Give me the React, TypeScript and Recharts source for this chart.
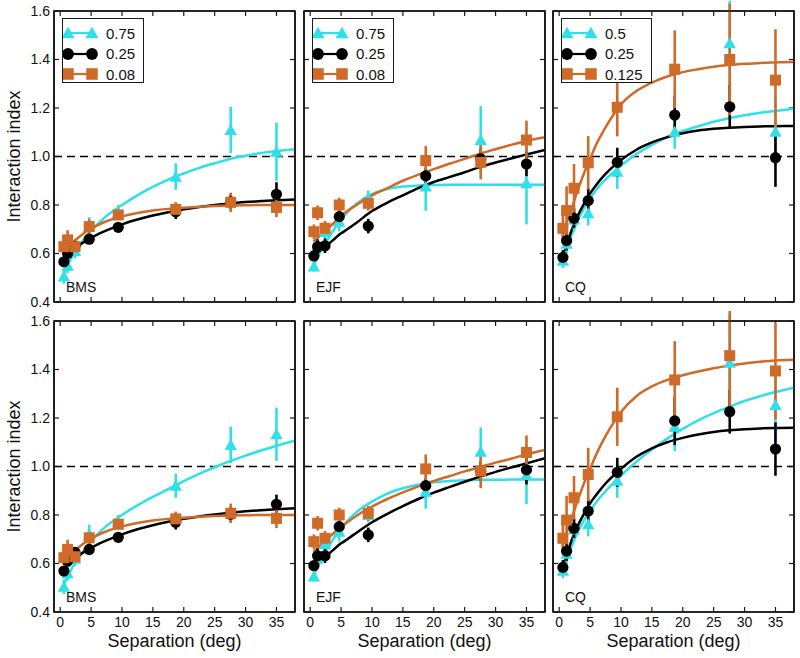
import React from "react";
import { ComposedChart, Line, Scatter, ErrorBar, XAxis, YAxis, ReferenceLine, ReferenceArea } from "recharts";

const CYAN = "#2fe0e8";
const ORANGE = "#cf6a28";
const BLACK = "#000000";
const FRAME = "#1a1a1a";
const FONT = "'Liberation Sans', Arial, Helvetica, sans-serif";

// separations of the measured points (deg)
const separations = [0.6, 1.2, 2.4, 4.7, 9.4, 18.7, 27.6, 35];
const fitX = [0.5, 1, 2, 3, 4, 5, 6, 7.5, 10, 12.5, 15, 17.5, 20, 22.5, 25, 27.5, 30, 32.5, 35, 38];
const xTicks = [0, 5, 10, 15, 20, 25, 30, 35];
const yTicks = [0.4, 0.6, 0.8, 1.0, 1.2, 1.4, 1.6];

// ---- top row ----
const bmsTopCyan = [0.505, 0.55, 0.61, 0.71, 0.77, 0.917, 1.109, 1.02];
const bmsTopCyanErr = [0.03, 0.03, 0.03, 0.04, 0.03, 0.055, 0.095, 0.12];
const bmsTopBlack = [0.566, 0.6, 0.63, 0.659, 0.708, 0.772, 0.813, 0.844];
const bmsTopBlackErr = [0.02, 0.02, 0.02, 0.02, 0.02, 0.03, 0.03, 0.05];
const bmsTopOrange = [0.628, 0.656, 0.628, 0.711, 0.759, 0.782, 0.811, 0.79];
const bmsTopOrangeErr = [0.03, 0.04, 0.03, 0.03, 0.02, 0.03, 0.04, 0.04];
const bmsTopCyanFit = [0.51, 0.54, 0.59, 0.63, 0.665, 0.695, 0.72, 0.755, 0.8, 0.84, 0.875, 0.905, 0.93, 0.953, 0.972, 0.99, 1.003, 1.014, 1.022, 1.03];
const bmsTopBlackFit = [0.56, 0.58, 0.61, 0.632, 0.65, 0.665, 0.678, 0.695, 0.72, 0.74, 0.757, 0.77, 0.782, 0.792, 0.8, 0.806, 0.812, 0.816, 0.82, 0.823];
const bmsTopOrangeFit = [0.605, 0.62, 0.645, 0.667, 0.687, 0.703, 0.716, 0.733, 0.753, 0.767, 0.777, 0.784, 0.789, 0.793, 0.796, 0.798, 0.799, 0.8, 0.8, 0.8];

const ejfTopCyan = [0.546, 0.63, 0.69, 0.731, 0.83, 0.876, 1.068, 0.89];
const ejfTopCyanErr = [0.02, 0.03, 0.03, 0.04, 0.03, 0.1, 0.14, 0.17];
const ejfTopBlack = [0.59, 0.628, 0.632, 0.752, 0.713, 0.92, 0.99, 0.969];
const ejfTopBlackErr = [0.02, 0.03, 0.03, 0.03, 0.03, 0.03, 0.04, 0.05];
const ejfTopOrange = [0.69, 0.768, 0.704, 0.8, 0.807, 0.983, 0.976, 1.068];
const ejfTopOrangeErr = [0.03, 0.03, 0.03, 0.03, 0.03, 0.06, 0.07, 0.08];
const ejfTopCyanFit = [0.55, 0.575, 0.625, 0.665, 0.705, 0.74, 0.77, 0.805, 0.845, 0.866, 0.876, 0.88, 0.882, 0.883, 0.883, 0.883, 0.883, 0.883, 0.883, 0.883];
const ejfTopBlackFit = [0.59, 0.6, 0.62, 0.64, 0.662, 0.683, 0.7, 0.727, 0.775, 0.81, 0.84, 0.87, 0.895, 0.915, 0.935, 0.957, 0.975, 0.992, 1.008, 1.027];
const ejfTopOrangeFit = [0.65, 0.66, 0.683, 0.706, 0.73, 0.755, 0.775, 0.8, 0.84, 0.87, 0.9, 0.925, 0.948, 0.97, 0.99, 1.012, 1.03, 1.048, 1.064, 1.079];

const cqTopCyan = [0.57, 0.64, 0.74, 0.766, 0.937, 1.102, 1.467, 1.102];
const cqTopCyanErr = [0.03, 0.04, 0.05, 0.05, 0.07, 0.07, 0.2, 0.14];
const cqTopBlack = [0.584, 0.653, 0.745, 0.818, 0.976, 1.171, 1.205, 0.995];
const cqTopBlackErr = [0.03, 0.04, 0.04, 0.05, 0.06, 0.08, 0.09, 0.12];
const cqTopOrange = [0.704, 0.777, 0.869, 0.974, 1.203, 1.36, 1.4, 1.315];
const cqTopOrangeErr = [0.06, 0.1, 0.1, 0.11, 0.12, 0.16, 0.23, 0.21];
const cqTopCyanFit = [0.55, 0.595, 0.675, 0.735, 0.785, 0.828, 0.863, 0.905, 0.962, 1.01, 1.048, 1.08, 1.105, 1.125, 1.143, 1.158, 1.17, 1.18, 1.188, 1.197];
const cqTopBlackFit = [0.56, 0.615, 0.695, 0.755, 0.805, 0.848, 0.883, 0.928, 0.985, 1.028, 1.058, 1.08, 1.096, 1.107, 1.114, 1.119, 1.122, 1.124, 1.125, 1.126];
const cqTopOrangeFit = [0.67, 0.71, 0.785, 0.86, 0.93, 0.99, 1.05, 1.12, 1.215, 1.27, 1.305, 1.33, 1.348, 1.36, 1.37, 1.377, 1.382, 1.386, 1.388, 1.39];

// ---- bottom row ----
const bmsBotCyan = [0.504, 0.56, 0.62, 0.72, 0.77, 0.921, 1.089, 1.133];
const bmsBotCyanErr = [0.03, 0.03, 0.03, 0.04, 0.03, 0.05, 0.075, 0.11];
const bmsBotBlack = [0.569, 0.61, 0.646, 0.658, 0.708, 0.77, 0.803, 0.844];
const bmsBotBlackErr = [0.02, 0.02, 0.02, 0.02, 0.02, 0.03, 0.03, 0.04];
const bmsBotOrange = [0.624, 0.658, 0.628, 0.706, 0.762, 0.784, 0.807, 0.786];
const bmsBotOrangeErr = [0.03, 0.04, 0.03, 0.03, 0.02, 0.03, 0.04, 0.04];
const bmsBotCyanFit = [0.505, 0.535, 0.585, 0.625, 0.66, 0.692, 0.72, 0.755, 0.8, 0.84, 0.875, 0.907, 0.94, 0.97, 0.997, 1.022, 1.045, 1.066, 1.085, 1.107];
const bmsBotBlackFit = [0.56, 0.58, 0.61, 0.632, 0.65, 0.665, 0.678, 0.695, 0.72, 0.741, 0.758, 0.772, 0.784, 0.794, 0.802, 0.809, 0.815, 0.82, 0.824, 0.828];
const bmsBotOrangeFit = [0.605, 0.62, 0.645, 0.667, 0.687, 0.703, 0.716, 0.733, 0.753, 0.767, 0.777, 0.784, 0.789, 0.793, 0.796, 0.798, 0.799, 0.8, 0.8, 0.8];

const ejfBotCyan = [0.546, 0.62, 0.68, 0.731, 0.8, 0.896, 1.061, 0.965];
const ejfBotCyanErr = [0.02, 0.03, 0.03, 0.04, 0.03, 0.07, 0.1, 0.12];
const ejfBotBlack = [0.591, 0.632, 0.632, 0.752, 0.718, 0.921, 0.98, 0.986];
const ejfBotBlackErr = [0.02, 0.03, 0.03, 0.03, 0.03, 0.03, 0.04, 0.06];
const ejfBotOrange = [0.69, 0.766, 0.704, 0.8, 0.807, 0.99, 0.981, 1.058];
const ejfBotOrangeErr = [0.03, 0.03, 0.03, 0.03, 0.03, 0.06, 0.07, 0.07];
const ejfBotCyanFit = [0.55, 0.575, 0.625, 0.67, 0.71, 0.745, 0.775, 0.812, 0.855, 0.888, 0.91, 0.925, 0.935, 0.94, 0.943, 0.945, 0.945, 0.946, 0.946, 0.946];
const ejfBotBlackFit = [0.59, 0.6, 0.62, 0.64, 0.662, 0.683, 0.7, 0.727, 0.77, 0.805, 0.837, 0.866, 0.892, 0.915, 0.937, 0.958, 0.978, 0.996, 1.013, 1.034];
const ejfBotOrangeFit = [0.65, 0.66, 0.683, 0.706, 0.73, 0.75, 0.77, 0.797, 0.835, 0.866, 0.893, 0.918, 0.94, 0.96, 0.98, 0.998, 1.016, 1.032, 1.05, 1.068];

const cqBotCyan = [0.57, 0.64, 0.74, 0.762, 0.941, 1.164, 1.428, 1.254];
const cqBotCyanErr = [0.03, 0.04, 0.05, 0.05, 0.07, 0.1, 0.2, 0.15];
const cqBotBlack = [0.584, 0.651, 0.745, 0.816, 0.976, 1.188, 1.226, 1.072];
const cqBotBlackErr = [0.03, 0.04, 0.04, 0.05, 0.06, 0.1, 0.09, 0.11];
const cqBotOrange = [0.704, 0.779, 0.871, 0.967, 1.205, 1.357, 1.457, 1.394];
const cqBotOrangeErr = [0.06, 0.1, 0.09, 0.11, 0.12, 0.16, 0.22, 0.2];
const cqBotCyanFit = [0.55, 0.595, 0.67, 0.73, 0.778, 0.818, 0.853, 0.898, 0.962, 1.02, 1.07, 1.115, 1.155, 1.19, 1.22, 1.246, 1.27, 1.29, 1.307, 1.325];
const cqBotBlackFit = [0.56, 0.615, 0.695, 0.755, 0.805, 0.848, 0.883, 0.93, 0.99, 1.04, 1.075, 1.1, 1.118, 1.132, 1.142, 1.149, 1.154, 1.157, 1.159, 1.16];
const cqBotOrangeFit = [0.67, 0.71, 0.785, 0.86, 0.93, 0.99, 1.05, 1.125, 1.225, 1.29, 1.33, 1.357, 1.376, 1.392, 1.405, 1.416, 1.425, 1.432, 1.437, 1.44];

const legendBmsEjf = ["0.75", "0.25", "0.08"];
const legendCq = ["0.5", "0.25", "0.125"];

// layout of the plot areas
const PLOT_W = 241;
const PLOT_H = 291;
const COL_X = [54, 304, 553];
const ROW_Y = [11, 321];
const PAD_T = 10;
const X_MIN = -1;
const X_MAX = 38;
const Y_MIN = 0.4;
const Y_MAX = 1.6;
// inward tick length (5 px) expressed in data units
const TICK_DX = (5 * (X_MAX - X_MIN)) / PLOT_W;
const TICK_DY = (5 * (Y_MAX - Y_MIN)) / PLOT_H;

type Kind = "tri" | "circ" | "sq";

const points = (ys: number[], es: number[]) => separations.map((x, i) => ({ x, y: ys[i], e: es[i] }));
const curve = (ys: number[]) => fitX.map((x, i) => ({ x, y: ys[i] }));

function Marker({ kind, cx, cy, color, s = 1 }: { kind: Kind; cx: number; cy: number; color: string; s?: number }) {
  if (kind === "circ") return <circle cx={cx} cy={cy} r={5.6 * s} fill={color} />;
  if (kind === "sq") {
    const h = 5.5 * s;
    return <rect x={cx - h} y={cy - h} width={2 * h} height={2 * h} fill={color} />;
  }
  const w = 6.2 * s;
  return <polygon points={`${cx},${cy - 6 * s} ${cx + w},${cy + 5 * s} ${cx - w},${cy + 5 * s}`} fill={color} />;
}

const shapeOf = (kind: Kind, color: string) => (p: any) => <Marker kind={kind} cx={p.cx} cy={p.cy} color={color} />;

interface SeriesDef {
  kind: Kind;
  color: string;
  pts: { x: number; y: number; e: number }[];
  fit: { x: number; y: number }[];
}

function Panel({ col, row, series }: { col: number; row: number; series: SeriesDef[] }) {
  const left = col === 0;
  const bottom = row === 1;
  // axes need a non-zero size to be drawn at all
  const yW = left ? 54 : 1;
  const xH = bottom ? 47 : 1;
  const width = yW + PLOT_W + 1 + 3;
  const mBottom = bottom ? 0 : 8;
  const height = PAD_T + PLOT_H + xH + mBottom;
  const axisLine = { stroke: FRAME, strokeWidth: 1.6 };
  const tickStyle = { fontSize: 14, fill: "#111", fontFamily: FONT };
  const tickProps = { stroke: FRAME, strokeWidth: 1.2, ifOverflow: "visible" as const };

  return (
    <div style={{ position: "absolute", left: COL_X[col] - yW, top: ROW_Y[row] - PAD_T }}>
      <ComposedChart width={width} height={height} margin={{ top: PAD_T - 1, right: 3, bottom: mBottom, left: 0 }}>
        <XAxis
          type="number"
          dataKey="x"
          domain={[X_MIN, X_MAX]}
          ticks={xTicks}
          allowDataOverflow
          height={xH}
          axisLine={axisLine}
          tickLine={false}
          tickSize={-5}
          tickMargin={10}
          tick={bottom ? tickStyle : false}
          interval={0}
          label={
            bottom
              ? { value: "Separation (deg)", position: "insideBottom", offset: 12, style: { fontSize: 18, fill: "#111", fontFamily: FONT } }
              : undefined
          }
        />
        <XAxis
          xAxisId="t"
          orientation="top"
          type="number"
          domain={[X_MIN, X_MAX]}
          ticks={xTicks}
          allowDataOverflow
          height={1}
          axisLine={axisLine}
          tickLine={false}
          tick={false}
        />
        <YAxis
          type="number"
          dataKey="y"
          domain={[Y_MIN, Y_MAX]}
          ticks={yTicks}
          allowDataOverflow
          width={yW}
          axisLine={axisLine}
          tickLine={false}
          tickSize={-5}
          tickMargin={9}
          tick={left ? tickStyle : false}
          tickFormatter={(v: number) => v.toFixed(1)}
          interval={0}
          label={
            left
              ? { value: "Interaction index", angle: -90, position: "insideLeft", offset: 14, style: { fontSize: 18, fill: "#111", fontFamily: FONT, textAnchor: "middle" } }
              : undefined
          }
        />
        <YAxis
          yAxisId="r"
          orientation="right"
          type="number"
          domain={[Y_MIN, Y_MAX]}
          ticks={yTicks}
          allowDataOverflow
          width={1}
          axisLine={axisLine}
          tickLine={false}
          tick={false}
        />
        <ReferenceArea x1={X_MIN} x2={X_MAX} y1={Y_MIN} y2={Y_MAX} fill="none" stroke={FRAME} strokeWidth={1.7} ifOverflow="visible" />
        {xTicks.map((t) => (
          <ReferenceLine key={`xb-${t}`} segment={[{ x: t, y: Y_MIN }, { x: t, y: Y_MIN + TICK_DY }]} {...tickProps} />
        ))}
        {xTicks.map((t) => (
          <ReferenceLine key={`xt-${t}`} segment={[{ x: t, y: Y_MAX }, { x: t, y: Y_MAX - TICK_DY }]} {...tickProps} />
        ))}
        {yTicks.map((t) => (
          <ReferenceLine key={`yl-${t}`} segment={[{ x: X_MIN, y: t }, { x: X_MIN + TICK_DX, y: t }]} {...tickProps} />
        ))}
        {yTicks.map((t) => (
          <ReferenceLine key={`yr-${t}`} segment={[{ x: X_MAX, y: t }, { x: X_MAX - TICK_DX, y: t }]} {...tickProps} />
        ))}
        <ReferenceLine y={1} stroke={BLACK} strokeWidth={1.5} strokeDasharray="8 5" />
        {series.map((s, i) => (
          <Line
            key={`fit-${i}`}
            data={s.fit}
            dataKey="y"
            type="monotone"
            stroke={s.color}
            strokeWidth={2.5}
            dot={false}
            activeDot={false}
            isAnimationActive={false}
          />
        ))}
        {series.map((s, i) => (
          <Scatter key={`pts-${i}`} data={s.pts} dataKey="y" shape={shapeOf(s.kind, s.color)} isAnimationActive={false}>
            <ErrorBar dataKey="e" direction="y" width={0} stroke={s.color} strokeWidth={2.6} />
          </Scatter>
        ))}
      </ComposedChart>
    </div>
  );
}

function LegendBox({ col, labels }: { col: number; labels: string[] }) {
  const kinds: Kind[] = ["tri", "circ", "sq"];
  const colors = [CYAN, BLACK, ORANGE];
  return (
    <div
      style={{
        position: "absolute",
        left: COL_X[col] + 8,
        top: ROW_Y[0] + 7,
        width: labels[2].length > 4 ? 91 : 82,
        height: 65,
        border: `1.6px solid ${FRAME}`,
        background: "#fff",
        paddingTop: 4,
        boxSizing: "border-box",
        fontFamily: FONT,
        fontSize: 15,
        color: "#111",
      }}
    >
      {labels.map((t, i) => (
        <div key={t + i} style={{ height: 20.5, display: "flex", alignItems: "center" }}>
          <svg width={43} height={16} style={{ display: "block" }}>
            <line x1={5} y1={8} x2={29} y2={8} stroke={colors[i]} strokeWidth={2.2} />
            <Marker kind={kinds[i]} cx={5} cy={8} color={colors[i]} s={1.05} />
            <Marker kind={kinds[i]} cx={29} cy={8} color={colors[i]} s={1.05} />
          </svg>
          <span style={{ lineHeight: 1 }}>{t}</span>
        </div>
      ))}
    </div>
  );
}

function PanelName({ col, row, name }: { col: number; row: number; name: string }) {
  return (
    <div
      style={{
        position: "absolute",
        left: COL_X[col] + 12,
        top: ROW_Y[row] + 269,
        fontFamily: FONT,
        fontSize: 14,
        lineHeight: 1,
        color: "#111",
      }}
    >
      {name}
    </div>
  );
}

const mk = (c: number[], ce: number[], cf: number[], b: number[], be: number[], bf: number[], o: number[], oe: number[], of: number[]): SeriesDef[] => [
  { kind: "tri", color: CYAN, pts: points(c, ce), fit: curve(cf) },
  { kind: "circ", color: BLACK, pts: points(b, be), fit: curve(bf) },
  { kind: "sq", color: ORANGE, pts: points(o, oe), fit: curve(of) },
];

const panels = [
  { col: 0, row: 0, name: "BMS", s: mk(bmsTopCyan, bmsTopCyanErr, bmsTopCyanFit, bmsTopBlack, bmsTopBlackErr, bmsTopBlackFit, bmsTopOrange, bmsTopOrangeErr, bmsTopOrangeFit) },
  { col: 1, row: 0, name: "EJF", s: mk(ejfTopCyan, ejfTopCyanErr, ejfTopCyanFit, ejfTopBlack, ejfTopBlackErr, ejfTopBlackFit, ejfTopOrange, ejfTopOrangeErr, ejfTopOrangeFit) },
  { col: 2, row: 0, name: "CQ", s: mk(cqTopCyan, cqTopCyanErr, cqTopCyanFit, cqTopBlack, cqTopBlackErr, cqTopBlackFit, cqTopOrange, cqTopOrangeErr, cqTopOrangeFit) },
  { col: 0, row: 1, name: "BMS", s: mk(bmsBotCyan, bmsBotCyanErr, bmsBotCyanFit, bmsBotBlack, bmsBotBlackErr, bmsBotBlackFit, bmsBotOrange, bmsBotOrangeErr, bmsBotOrangeFit) },
  { col: 1, row: 1, name: "EJF", s: mk(ejfBotCyan, ejfBotCyanErr, ejfBotCyanFit, ejfBotBlack, ejfBotBlackErr, ejfBotBlackFit, ejfBotOrange, ejfBotOrangeErr, ejfBotOrangeFit) },
  { col: 2, row: 1, name: "CQ", s: mk(cqBotCyan, cqBotCyanErr, cqBotCyanFit, cqBotBlack, cqBotBlackErr, cqBotBlackFit, cqBotOrange, cqBotOrangeErr, cqBotOrangeFit) },
];

export default function App() {
  return (
    <div style={{ position: "absolute", left: 0, top: 0, width: 800, height: 658, background: "#fff", overflow: "hidden" }}>
      {panels.map((p) => (
        <Panel key={`${p.col}-${p.row}`} col={p.col} row={p.row} series={p.s} />
      ))}
      {panels.map((p) => (
        <PanelName key={`n-${p.col}-${p.row}`} col={p.col} row={p.row} name={p.name} />
      ))}
      <LegendBox col={0} labels={legendBmsEjf} />
      <LegendBox col={1} labels={legendBmsEjf} />
      <LegendBox col={2} labels={legendCq} />
    </div>
  );
}
